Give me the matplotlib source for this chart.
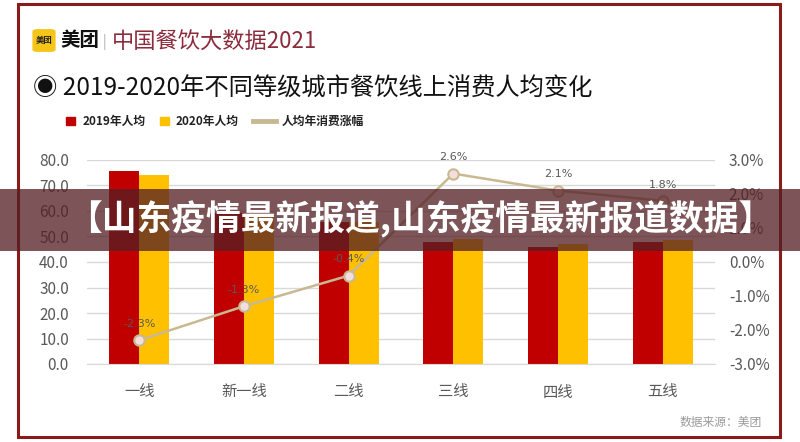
import matplotlib.pyplot as plt
from matplotlib.patches import Rectangle, FancyBboxPatch
from matplotlib.lines import Line2D
import numpy as np

plt.rcParams['font.family'] = ['Noto Sans CJK SC', 'DejaVu Sans']

# --- dane ---
cities = ['一线', '新一线', '二线', '三线', '四线', '五线']
avg_2019 = [75.7, 59.2, 55.8, 48.0, 46.0, 47.8]
avg_2020 = [74.0, 58.4, 55.6, 49.2, 47.0, 48.7]
growth = [-2.3, -1.3, -0.4, 2.6, 2.1, 1.8]
left_ticks = [0, 10, 20, 30, 40, 50, 60, 70, 80]
right_ticks = [-3, -2, -1, 0, 1, 2, 3]

RED = '#c00000'
YELLOW = '#ffc000'
TAN = '#c9b993'
GRAY = '#595959'

W, H = 800, 442
fig = plt.figure(figsize=(W / 100, H / 100), dpi=100)


def fx(px):
    return px / W


def fy(py):
    return 1 - py / H


# ramka
fig.patches.append(Rectangle((fx(18), fy(437)), fx(762), (437 - 4) / H,
                             transform=fig.transFigure, fill=False,
                             edgecolor='#8b1a1a', linewidth=2.2))

# naglowek z logo
fig.patches.append(FancyBboxPatch((fx(34), fy(51)), fx(20), 21 / H,
                                  boxstyle='round,pad=0.002,rounding_size=0.006',
                                  transform=fig.transFigure,
                                  facecolor='#f5c518', edgecolor='none'))
fig.text(fx(44), fy(41), '美团', fontsize=6, fontweight='bold',
         ha='center', va='center', color='#222222')
fig.text(fx(60), fy(41), '美团', fontsize=14, fontweight='bold',
         ha='left', va='center', color='#111111')
fig.text(fx(104), fy(42), '|', fontsize=10, ha='center', va='center', color='#aaaaaa')
fig.text(fx(112), fy(42), '中国餐饮大数据2021', fontsize=16,
         ha='left', va='center', color='#8c2b3c')

fig.text(fx(33), fy(89), '◉ 2019-2020年不同等级城市餐饮线上消费人均变化',
         fontsize=17.5, ha='left', va='center', color='#111111')

# legenda
fig.patches.append(Rectangle((fx(66), fy(125)), fx(9), 8 / H,
                             transform=fig.transFigure, color=RED))
fig.text(fx(83), fy(121), '2019年人均', fontsize=8.5, fontweight='bold',
         ha='left', va='center', color='#222222')
fig.patches.append(Rectangle((fx(160), fy(125)), fx(9), 8 / H,
                             transform=fig.transFigure, color=YELLOW))
fig.text(fx(176), fy(121), '2020年人均', fontsize=8.5, fontweight='bold',
         ha='left', va='center', color='#222222')
fig.lines.append(Line2D([fx(253), fx(276)], [fy(121), fy(121)],
                        transform=fig.transFigure, color=TAN, linewidth=3.5))
fig.text(fx(282), fy(121), '人均年消费涨幅', fontsize=8.5, fontweight='bold',
         ha='left', va='center', color='#222222')

# wykres glowny
ax = fig.add_axes([fx(87), fy(364), fx(628), 204 / H])
x = np.arange(len(cities))
bw = 0.287
ax.bar(x - bw / 2, avg_2019, width=bw, color=RED, zorder=2)
ax.bar(x + bw / 2, avg_2020, width=bw, color=YELLOW, zorder=2)
ax.set_xlim(-0.5, len(cities) - 0.5)
ax.set_ylim(0, 80)
ax.set_yticks(left_ticks)
ax.set_yticklabels([f'{v:.1f}' for v in left_ticks])
ax.set_xticks(x)
ax.set_xticklabels(cities)
ax.yaxis.grid(True, color='#d9d9d9', linewidth=1, zorder=0)
ax.set_axisbelow(True)
for s in ['top', 'right', 'left']:
    ax.spines[s].set_visible(False)
ax.spines['bottom'].set_color('#d9d9d9')
ax.tick_params(axis='y', length=0, pad=13, labelsize=11, labelcolor=GRAY)
ax.tick_params(axis='x', length=0, pad=14, labelsize=11, labelcolor=GRAY)

ax2 = ax.twinx()
ax2.set_ylim(-3, 3)
ax2.set_yticks(right_ticks)
ax2.set_yticklabels([f'{v:.1f}%' for v in right_ticks])
for s in ['top', 'right', 'left', 'bottom']:
    ax2.spines[s].set_visible(False)
ax2.tick_params(axis='y', length=0, pad=10, labelsize=11, labelcolor=GRAY)
ax2.plot(x, growth, color=TAN, linewidth=1.8, marker='o', markersize=7.5,
         markerfacecolor='#f3dede', markeredgecolor=TAN, markeredgewidth=1.5,
         zorder=3)
for xi, g in zip(x, growth):
    ax2.annotate(f'{g:.1f}%', (xi, g), xytext=(0, 8), textcoords='offset points',
                 ha='center', va='bottom', fontsize=8, color=GRAY,
                 family=['DejaVu Sans'])

fig.text(fx(762), fy(422), '数据来源：美团', fontsize=8.5, ha='right',
         va='center', color='#9a9a9a')

# nakladka z tytulem
fig.patches.append(Rectangle((0, fy(251)), 1, 62 / H, transform=fig.transFigure,
                             facecolor=(84 / 255, 32 / 255, 36 / 255),
                             alpha=0.76, edgecolor='none', zorder=10))
fig.text(fx(420), fy(219), '【山东疫情最新报道,山东疫情最新报道数据】', fontsize=25,
         fontweight='heavy', ha='center', va='center', color='white', zorder=11)

fig.savefig('out.png', dpi=100)
